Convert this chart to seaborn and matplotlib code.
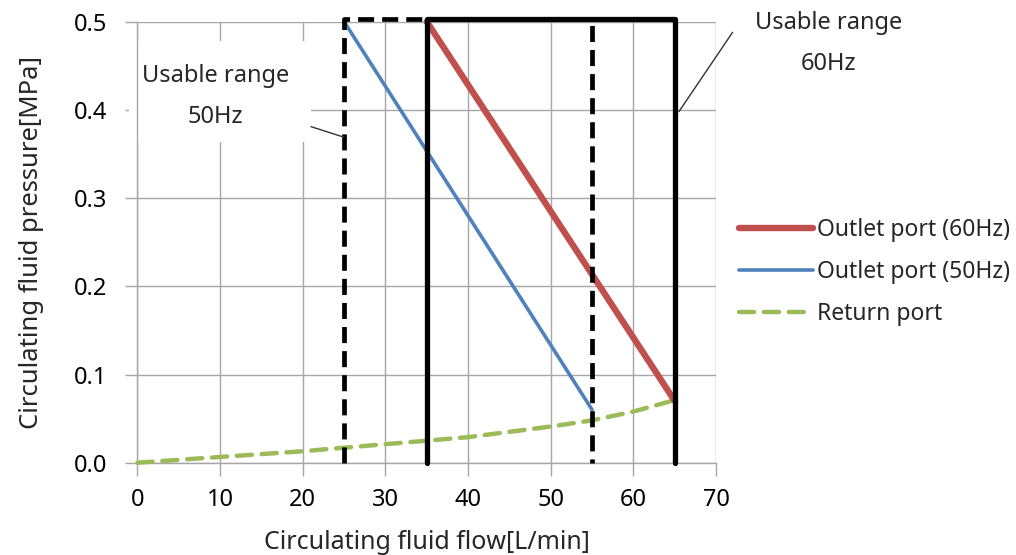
import matplotlib
matplotlib.use("Agg")
import matplotlib.pyplot as plt
from matplotlib.patches import Rectangle
import seaborn as sns
import pandas as pd

# ---- data ----
flow_60 = [35, 65]
pres_60 = [0.5, 0.07]
flow_50 = [25, 55]
pres_50 = [0.5, 0.06]
flow_ret = [0, 10, 20, 30, 40, 50, 55, 60, 65]
pres_ret = [0.0, 0.0065, 0.013, 0.021, 0.029, 0.041, 0.048, 0.058, 0.071]
range60_x = [35, 35, 65, 65]
range60_y = [0.0, 0.503, 0.503, 0.0]
range50_x = [25, 25, 55, 55]
range50_y = [0.0, 0.503, 0.503, 0.0]
labels = ["Outlet port (60Hz)", "Outlet port (50Hz)", "Return port"]
x_ticks = [0, 10, 20, 30, 40, 50, 60, 70]
y_ticks = [0.0, 0.1, 0.2, 0.3, 0.4, 0.5]

sns.set_theme(style="white")
plt.rcParams['font.family'] = ['Noto Sans', 'DejaVu Sans']

fig = plt.figure(figsize=(10.16, 5.55), dpi=100)
ax = fig.add_axes([0.1353, 0.1663, 0.5695, 0.7946])

red = "#C0504D"
blue = "#4F81BD"
green = "#9BBB59"
grid = "#A6A6A6"

sns.lineplot(x=flow_60, y=pres_60, ax=ax, color=red, lw=4.6, label=labels[0],
             solid_capstyle="round", zorder=4, clip_on=False)
sns.lineplot(x=flow_50, y=pres_50, ax=ax, color=blue, lw=2.6, label=labels[1],
             zorder=4, clip_on=False)
sns.lineplot(x=flow_ret, y=pres_ret, ax=ax, color=green, lw=3.2, label=labels[2],
             zorder=3, clip_on=False)
ax.lines[-1].set_dashes([3.4, 2.2])
ax.lines[-1].set_dash_capstyle("round")

df60 = pd.DataFrame({"x": range60_x, "y": range60_y})
df50 = pd.DataFrame({"x": range50_x, "y": range50_y})
sns.lineplot(data=df50, x="x", y="y", ax=ax, color="black", lw=3.4, sort=False,
             estimator=None, zorder=5, clip_on=False, legend=False)
ax.lines[-1].set_dashes([3.4, 1.7])
sns.lineplot(data=df60, x="x", y="y", ax=ax, color="black", lw=3.8, sort=False,
             estimator=None, zorder=6, clip_on=False, legend=False)

ax.set_xlim(0, 70)
ax.set_ylim(0, 0.5)
ax.set_xticks(x_ticks)
ax.set_yticks(y_ticks)
ax.set_yticklabels([f"{v:.1f}" for v in y_ticks])
ax.grid(True, color=grid, lw=1.0)
ax.set_axisbelow(True)
for s in ["top", "right"]:
    ax.spines[s].set_visible(False)
for s in ["left", "bottom"]:
    ax.spines[s].set_color(grid)
    ax.spines[s].set_linewidth(1.0)
ax.tick_params(axis="both", direction="out", length=9, width=1.0, color=grid,
               labelsize=17, labelcolor="black", left=True, bottom=True)
ax.tick_params(axis="y", pad=13)
ax.tick_params(axis="x", pad=9)

ax.set_xlabel("Circulating fluid flow[L/min]", fontsize=18, labelpad=13)
ax.set_ylabel("Circulating fluid pressure[MPa]", fontsize=18.5, labelpad=21)

# annotation 50Hz with white box
ax.add_patch(Rectangle((-1.0, 0.364), 22.0, 0.114, facecolor="white", edgecolor="none",
                       zorder=2.5, clip_on=False))
ax.text(9.4, 0.415, "Usable range\n50Hz", ha="center", va="center", fontsize=17,
        linespacing=1.95, zorder=7)
ax.plot([21.0, 25.0], [0.381, 0.369], color="#333333", lw=1.0, zorder=7)

# annotation 60Hz outside
ax.text(83.6, 0.4755, "Usable range\n60Hz", ha="center", va="center", fontsize=17,
        linespacing=1.95, clip_on=False)
ax.plot([72.0, 65.5], [0.488, 0.398], color="#333333", lw=1.0, clip_on=False, zorder=7)

leg = ax.legend(loc="center left", bbox_to_anchor=(1.04, 0.432), frameon=False,
                fontsize=16.5, handlelength=3.2, handletextpad=0.2, labelspacing=0.78,
                borderpad=0, borderaxespad=0)

fig.savefig("out.png", dpi=100)
